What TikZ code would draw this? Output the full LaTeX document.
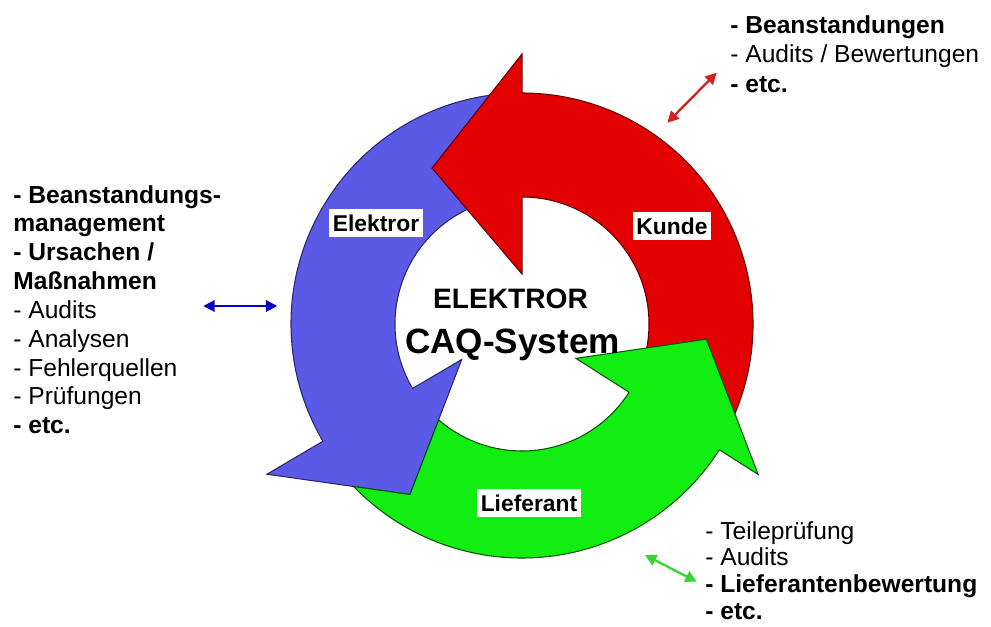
\documentclass[tikz,border=0pt]{standalone}
\usepackage{fontspec}
\setmainfont{Liberation Sans}
\usetikzlibrary{arrows.meta,calc}
\definecolor{Blue}{HTML}{5A5AE6}
\definecolor{Red}{HTML}{E30000}
\definecolor{Green}{HTML}{12EE12}
\definecolor{DarkBlue}{HTML}{0000C0}
\definecolor{DarkRed}{HTML}{D42020}
\definecolor{LightGreen}{HTML}{33D633}

\begin{document}
\begin{tikzpicture}[x=0.02cm,y=0.02cm,
  seg/.style={line width=0.6pt,line join=miter},
  tag/.style={fill=white,inner xsep=2pt,inner ysep=0pt,minimum height=16pt,font=\bfseries\fontsize{13pt}{15pt}\selectfont},
  info/.style={align=left,anchor=north west,inner sep=0pt},
  link/.style={line width=1.3pt,{Triangle[length=6.5pt,width=6.5pt]}-{Triangle[length=6.5pt,width=6.5pt]}}]
  \useasboundingbox (-522,-302) rectangle (469,324);
  % ring: blue first, red head over its tail, green head over red tail
  \filldraw[seg,fill=Blue,draw=Blue!45!black] (95:231) arc[start angle=95,end angle=210.5,radius=231]
    -- (210.5:296) coordinate (bo) -- (236.7:204) coordinate (bt) -- (210.5:70) coordinate (bi)
    -- (210.5:127) arc[start angle=210.5,end angle=95,radius=127] -- cycle;
  \filldraw[seg,fill=Red,draw=Red!45!black] (-28:231) arc[start angle=-28,end angle=90,radius=231]
    -- (90:270) -- (120:180) -- (90:50)
    -- (90:127) arc[start angle=90,end angle=-28,radius=127] -- cycle;
  % green tail cut along the blue head
  \filldraw[seg,fill=Green,draw=Green!35!black] ($(bo)!0.606!(bt)$) arc[start angle=223.98,end angle=327.5,radius=234]
    -- (327.5:280) -- (355.3:185) -- (327.5:64)
    -- (327.5:127) arc[start angle=327.5,end angle=229,radius=127] -- (bt) -- cycle;

  \node[tag] (elektror) at (-146,101) {Elektror};
  \node[tag] (kunde) at (150,98) {Kunde};
  \node[tag] (lieferant) at (7,-179) {Lieferant};
  \node[font=\bfseries\fontsize{16pt}{18pt}\selectfont,anchor=base] (firma) at (-11.5,15.7) {ELEKTROR};
  \node[font=\bfseries\fontsize{20pt}{22pt}\selectfont,anchor=base] (caq) at (-9.5,-29.3) {CAQ-System};

  \node[info,font=\fontsize{14pt}{16.4pt}\selectfont] (internText) at (-509,139)
    {\textbf{- Beanstandungs-}\\\textbf{management}\\\textbf{- Ursachen /}\\\textbf{Maßnahmen}\\- Audits\\- Analysen\\- Fehlerquellen\\- Prüfungen\\\textbf{- etc.}};
  \node[info,font=\fontsize{14pt}{16.7pt}\selectfont] (kundeText) at (208,308.7)
    {\textbf{- Beanstandungen}\\- Audits / Bewertungen\\\textbf{- etc.}};
  \node[info,font=\fontsize{14pt}{15.2pt}\selectfont] (lieferantText) at (183,-197)
    {- Teileprüfung\\- Audits\\\textbf{- Lieferantenbewertung}\\\textbf{- etc.}};

  \coordinate (b1) at (-318.7,18);
  \coordinate (b2) at (-244.7,18);
  \coordinate (r1) at (145.3,201.3);
  \coordinate (r2) at (194.7,251.3);
  \coordinate (g1) at (123,-231);
  \coordinate (g2) at (174.7,-257.7);
  \draw[link,DarkBlue] (b1) -- (b2);
  \draw[link,DarkRed] (r1) -- (r2);
  \draw[link,LightGreen] (g1) -- (g2);
\end{tikzpicture}
\end{document}
